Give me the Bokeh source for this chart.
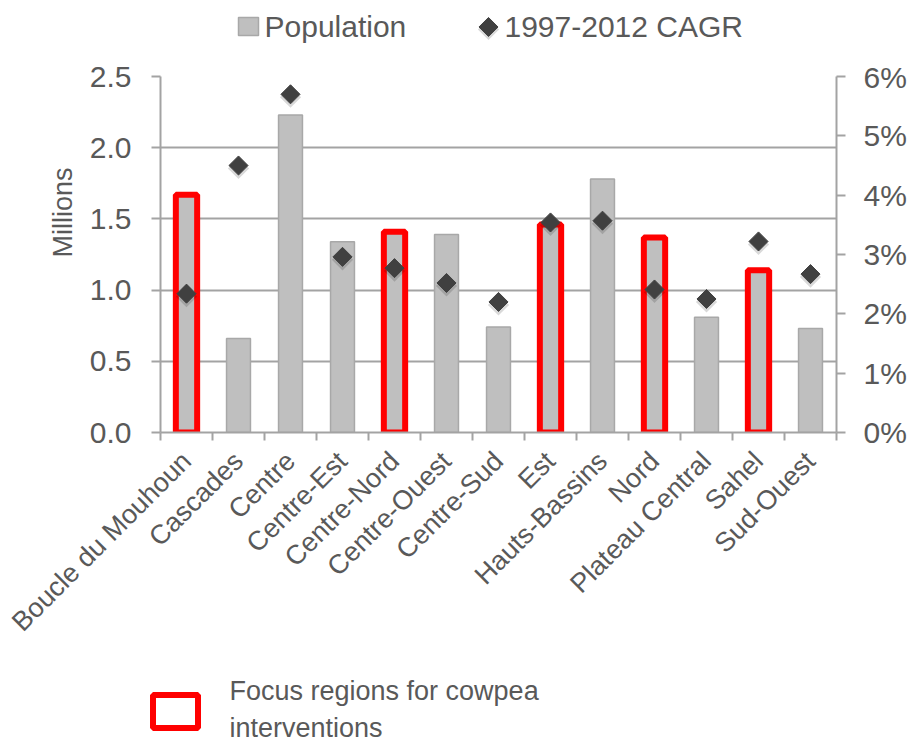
import math
from bokeh.plotting import figure
from bokeh.layouts import column
from bokeh.models import (Range1d, LinearAxis, FixedTicker, NumeralTickFormatter,
                          PrintfTickFormatter, ColumnDataSource, Grid, Title)
from bokeh.core.properties import value
from bokeh.embed import file_html
from bokeh.resources import INLINE

# ---------------- data ----------------
regions = ["Boucle du Mouhoun", "Cascades", "Centre", "Centre-Est", "Centre-Nord",
           "Centre-Ouest", "Centre-Sud", "Est", "Hauts-Bassins", "Nord",
           "Plateau Central", "Sahel", "Sud-Ouest"]
population_m = [1.67, 0.66, 2.23, 1.34, 1.41, 1.39, 0.74, 1.46, 1.78, 1.37, 0.81, 1.14, 0.73]
cagr_pct = [2.34, 4.50, 5.70, 2.96, 2.77, 2.52, 2.20, 3.54, 3.57, 2.41, 2.25, 3.22, 2.67]
focus_regions = ["Boucle du Mouhoun", "Centre-Nord", "Est", "Nord", "Sahel"]
left_ticks = [0.0, 0.5, 1.0, 1.5, 2.0, 2.5]
right_ticks = [0, 1, 2, 3, 4, 5, 6]
series_names = ["Population", "1997-2012 CAGR"]
focus_label = "Focus regions for cowpea\ninterventions"
y_title = "Millions"

# ---------------- style ----------------
TXT = "#595959"
GRID = "#a3a3a3"
BAR_FILL = "#bfbfbf"
BAR_LINE = "#a8a8a8"
DOT = "#404040"
RED = "#ff0000"
FONT = "Liberation Sans"
W = 909
TOP_H, MAIN_H, BOT_H = 60, 590, 94

centers = [i + 0.5 for i in range(len(regions))]
bounds = [float(i) for i in range(len(regions) + 1)]


def bare(h):
    f = figure(width=W, height=h, x_range=Range1d(0, W), y_range=Range1d(h, 0),
               output_backend="svg", toolbar_location=None,
               x_axis_type=None, y_axis_type=None,
               min_border=0, min_border_left=0, min_border_right=0,
               min_border_top=0, min_border_bottom=0, frame_align=False)
    f.outline_line_color = None
    return f


# ---------------- top legend ----------------
top = bare(TOP_H)
top.rect(x=[248], y=[26], width=20, height=18, fill_color=BAR_FILL,
         line_color=BAR_LINE, line_width=1.5)
top.scatter(x=[488], y=[29], marker="square", angle=math.pi / 4, size=15,
            fill_color="#000000", fill_alpha=0.15, line_color=None)
top.scatter(x=[488], y=[26.5], marker="square", angle=math.pi / 4, size=13.5,
            fill_color=DOT, line_color=DOT)
top.text(x=[264, 504], y=[26, 26], text=series_names, text_font=value(FONT),
         text_font_size="30px", text_color=TXT, text_baseline="middle",
         text_align="left")

# ---------------- main chart ----------------
p = figure(width=W, height=MAIN_H, x_range=Range1d(0, len(regions)),
           y_range=Range1d(0, 2.5), output_backend="svg", toolbar_location=None,
           x_axis_type=None, y_axis_type=None, frame_align=False,
           min_border_left=160, min_border_right=W - 836, min_border_top=16,
           min_border_bottom=MAIN_H - 16 - 360)
p.outline_line_color = None
p.extra_y_ranges = {"cagr": Range1d(0, 6)}

xaxis = LinearAxis(ticker=FixedTicker(ticks=centers, minor_ticks=bounds),
                   major_label_overrides={c: r for c, r in zip(centers, regions)},
                   major_label_orientation=math.pi / 4)
xaxis.axis_line_color = GRID
xaxis.axis_line_width = 2
xaxis.major_tick_in = 0
xaxis.major_tick_out = 0
xaxis.minor_tick_in = 0
xaxis.minor_tick_out = 8
xaxis.minor_tick_line_color = GRID
xaxis.minor_tick_line_width = 2
xaxis.major_label_text_font = FONT
xaxis.major_label_text_font_size = "27px"
xaxis.major_label_text_color = TXT
xaxis.major_label_standoff = 16
p.add_layout(xaxis, "below")

yaxis = LinearAxis(ticker=FixedTicker(ticks=left_ticks),
                   formatter=NumeralTickFormatter(format="0.0"))
yaxis.axis_line_color = GRID
yaxis.axis_line_width = 2
yaxis.major_tick_in = 0
yaxis.major_tick_out = 9
yaxis.major_tick_line_color = GRID
yaxis.major_tick_line_width = 2
yaxis.minor_tick_line_color = None
yaxis.major_label_text_font = FONT
yaxis.major_label_text_font_size = "30px"
yaxis.major_label_text_color = TXT
yaxis.major_label_standoff = 20
p.add_layout(yaxis, "left")

p.add_layout(Title(text=y_title, align="right", offset=91, text_font=FONT,
                   text_font_size="27px", text_font_style="normal", text_color=TXT,
                   standoff=17), "left")

raxis = LinearAxis(y_range_name="cagr", ticker=FixedTicker(ticks=right_ticks),
                   formatter=PrintfTickFormatter(format="%d%%"))
raxis.axis_line_color = GRID
raxis.axis_line_width = 2
raxis.major_tick_in = 0
raxis.major_tick_out = 9
raxis.major_tick_line_color = GRID
raxis.major_tick_line_width = 2
raxis.minor_tick_line_color = None
raxis.major_label_text_font = FONT
raxis.major_label_text_font_size = "30px"
raxis.major_label_text_color = TXT
raxis.major_label_standoff = 18
p.add_layout(raxis, "right")

p.add_layout(Grid(dimension=1, ticker=yaxis.ticker, grid_line_color=GRID,
                  grid_line_width=2))

src = ColumnDataSource(dict(x=centers, pop=population_m, cagr=cagr_pct,
                            shadow=[v - 0.05 for v in cagr_pct], region=regions))
fidx = [regions.index(r) for r in focus_regions]
fsrc = ColumnDataSource(dict(x=[centers[i] for i in fidx],
                             pop=[population_m[i] for i in fidx]))

p.vbar(x="x", top="pop", width=0.46, source=src, fill_color=BAR_FILL,
       line_color=BAR_LINE, line_width=1.5)
p.vbar(x="x", top="pop", width=0.41, source=fsrc, fill_color=None,
       line_color=RED, line_width=6)
p.scatter(x="x", y="shadow", y_range_name="cagr", source=src, marker="square",
          angle=math.pi / 4, size=15, fill_color="#000000", fill_alpha=0.15,
          line_color=None)
p.scatter(x="x", y="cagr", y_range_name="cagr", source=src, marker="square",
          angle=math.pi / 4, size=13.5, fill_color=DOT, line_color=DOT)

# ---------------- bottom legend ----------------
bot = bare(BOT_H)
bot.rect(x=[175], y=[61], width=45, height=33, fill_color=None,
         line_color=RED, line_width=6)
bot.text(x=[229], y=[59], text=[focus_label], text_font=value(FONT),
         text_font_size="27px", text_color=TXT, text_baseline="middle",
         text_align="left", text_line_height=1.22)

layout = column(top, p, bot, spacing=0)
open("out.html", "w").write(file_html(layout, INLINE))
